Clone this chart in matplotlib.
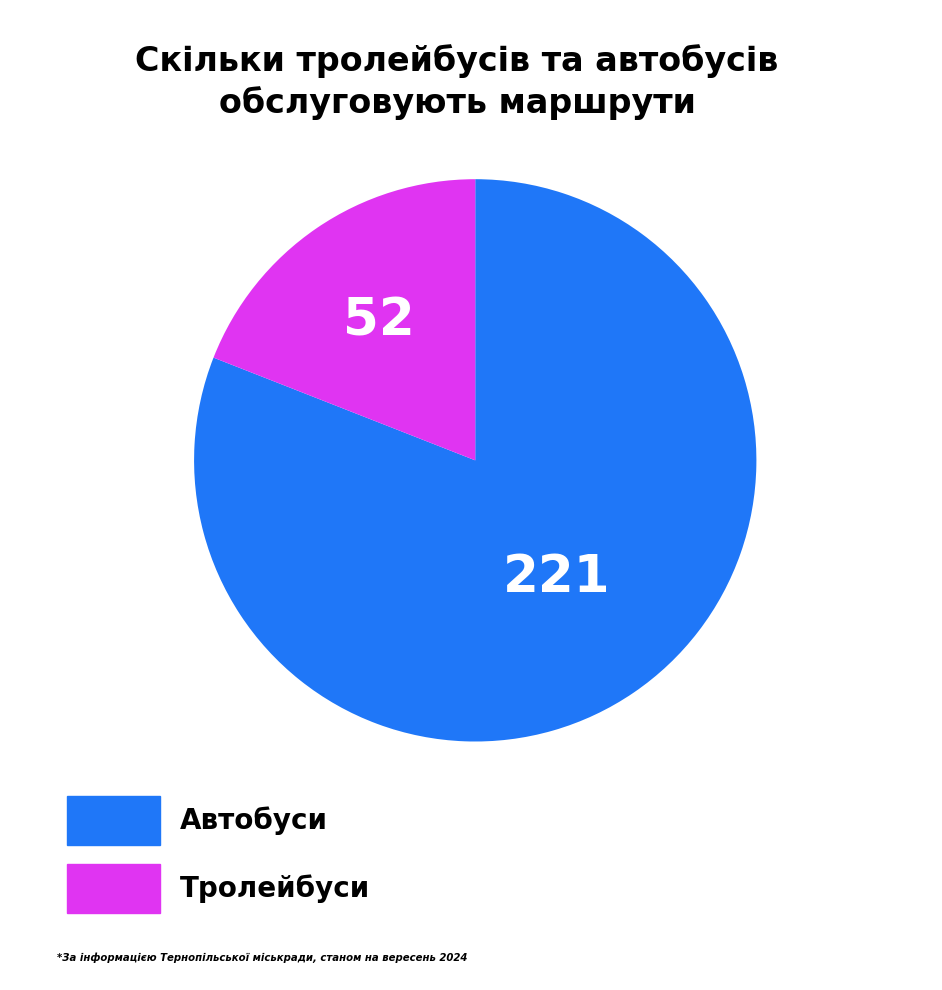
import matplotlib

matplotlib.use("Agg")
import matplotlib.pyplot as plt
from matplotlib.patches import Rectangle

labels = ["Автобуси", "Тролейбуси"]
values = [221, 52]
colors = ["#1f77f8", "#e034f2"]
title = "Скільки тролейбусів та автобусів\nобслуговують маршрути"
note = "*За інформацією Тернопільської міськради, станом на вересень 2024"

W, H = 942, 990
fig = plt.figure(figsize=(W / 100, H / 100), dpi=100)
fig.patch.set_facecolor("white")

ax = fig.add_axes([0.206, 0.251, 0.597, 0.568])
ax.pie(values, colors=colors, startangle=90, counterclock=False,
       wedgeprops=dict(linewidth=0))
ax.set_xlim(-1, 1)
ax.set_ylim(-1, 1)
ax.set_aspect("equal")

# value labels on the wedges
fig.text(557 / W, 1 - 578 / H, str(values[0]), color="white", fontsize=37,
         fontweight="bold", ha="center", va="center")
fig.text(379 / W, 1 - 322 / H, str(values[1]), color="white", fontsize=37,
         fontweight="bold", ha="center", va="center")

fig.text(457 / W, 1 - 82 / H, title, fontsize=24, fontweight="bold",
         ha="center", va="center", linespacing=1.3)

for i, (lab, col) in enumerate(zip(labels, colors)):
    top = 796 + i * 68
    fig.patches.append(Rectangle((67 / W, 1 - (top + 49) / H), 93 / W, 49 / H,
                                 transform=fig.transFigure, color=col))
    fig.text(180 / W, 1 - (top + 25) / H, lab, fontsize=20, fontweight="bold",
             ha="left", va="center")

fig.text(57 / W, 1 - 958 / H, note, fontsize=7.3, fontweight="bold",
         fontstyle="italic", ha="left", va="center")

fig.savefig("out.png", dpi=100)
